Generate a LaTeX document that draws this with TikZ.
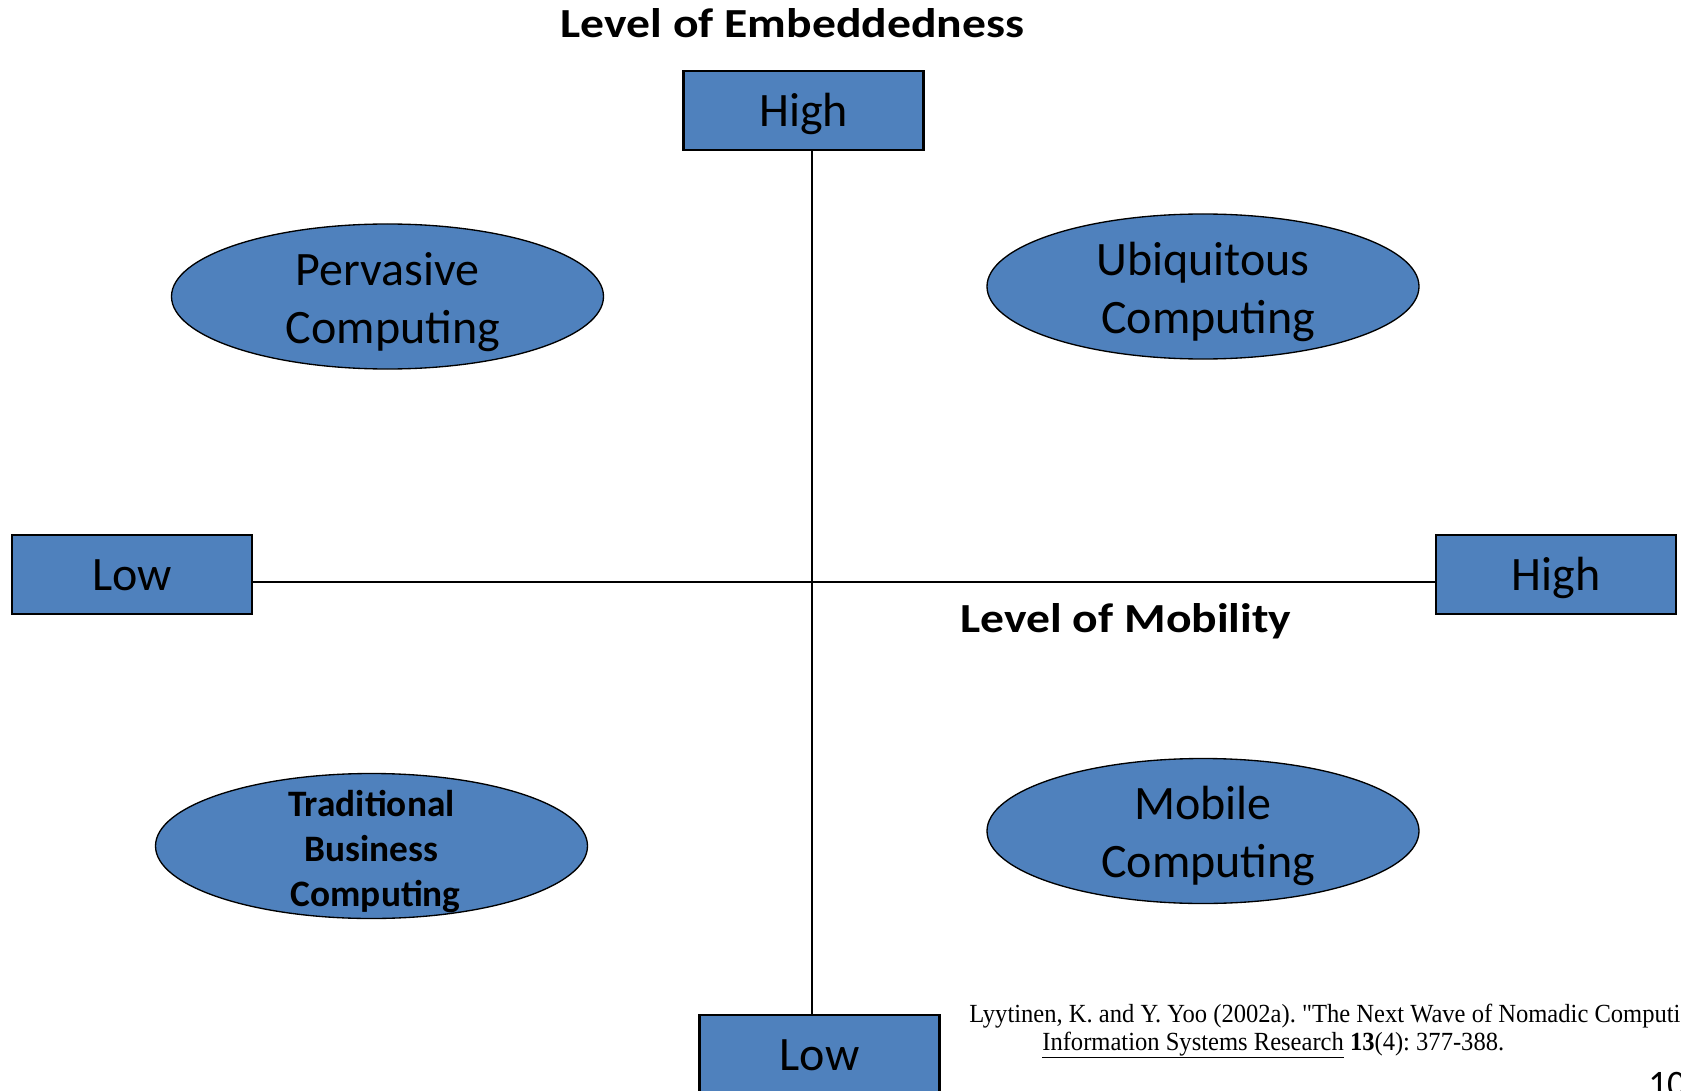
\documentclass[tikz,border=0pt]{standalone}
\usepackage{fontspec}
\setmainfont{Carlito}
\newfontfamily\citefont{Liberation Serif}
\usetikzlibrary{shapes.geometric}
\definecolor{boxblue}{HTML}{4F81BD}
\newcommand{\lead}{\hspace*{0.226em}}
\begin{document}
\begin{tikzpicture}[x=0.75pt,y=-0.75pt,
  levelbox/.style={draw=black,line width=1.75pt,fill=boxblue,inner sep=0pt,
    minimum width=180pt,minimum height=59.25pt,text height=30pt,text depth=5.7pt,
    font=\fontsize{36}{43}\selectfont},
  blob/.style={ellipse,draw=black,line width=1pt,fill=boxblue,inner sep=0pt,
    minimum width=324pt,minimum height=108.75pt},
  blobtext/.style={align=center,inner sep=0pt,font=\fontsize{36}{43.5}\selectfont},
  smalltext/.style={align=center,inner sep=0pt,font=\bfseries\fontsize{28}{33.75}\selectfont},
  axistitle/.style={anchor=base,inner sep=0pt,font=\bfseries\fontsize{31}{37}\selectfont},
  axis/.style={draw=black,line width=1.5pt}]
\clip (0,0) rectangle (1681,1091);
\fill[white] (0,0) rectangle (1681,1091);

% crossing point of the two axes
\coordinate (o) at (812,582);

% end-of-axis boxes
\node[levelbox] (embhigh) at (803.5,110.5) {High};
\node[levelbox] (emblow)  at (819.5,1054.5) {Low};
\node[levelbox] (moblow)  at (132,574.5) {Low};
\node[levelbox] (mobhigh) at (1556,574.5) {High};

% axes
\draw[axis] (embhigh.south -| o) -- (emblow.north -| o);
\draw[axis] (moblow.east |- o) -- (mobhigh.west |- o);

% axis titles
\node[axistitle] (embtitle) at (792.5,37.5) {\scalebox{1.152}[1]{Level of Embeddedness}};
\node[axistitle] (mobtitle) at (1126,632) {\scalebox{1.152}[1]{Level of Mobility}};

% quadrants
\node[blob] (perv) at (387.5,296.5) {};
\node[blob] (ubiq) at (1203,286.5) {};
\node[blob] (trad) at (371.5,846) {};
\node[blob] (mob)  at (1203,831) {};
\node[blobtext,yshift=-4.5pt] (pervtext) at (perv) {Pervasive\\\lead Computing};
\node[blobtext,yshift=-4pt] (ubiqtext) at (ubiq) {Ubiquitous\\\lead Computing};
\node[smalltext,yshift=-4.5pt] (tradtext) at (trad) {Traditional\\Business\\\lead Computing};
\node[blobtext,yshift=-3.5pt] (mobtext)  at (mob)  {Mobile\\\lead Computing};

% reference and page number
\node[anchor=base west,inner sep=0pt] (cite) at (969,1050)
  {\citefont\fontsize{19.6}{20.8}\selectfont\frenchspacing
   \scalebox{0.94}[1]{\begin{tabular}[b]{@{}l@{}}
   Lyytinen, K. and Y. Yoo (2002a). "The Next Wave of Nomadic Computing."\\
   \hspace*{58.3pt}\underline{Information Systems Research} \textbf{13}(4): 377-388.
   \end{tabular}}};
\node[anchor=base west,inner sep=0pt,font=\fontsize{28}{32}\selectfont] (pagenum) at (1648,1096) {10};
\end{tikzpicture}
\end{document}
